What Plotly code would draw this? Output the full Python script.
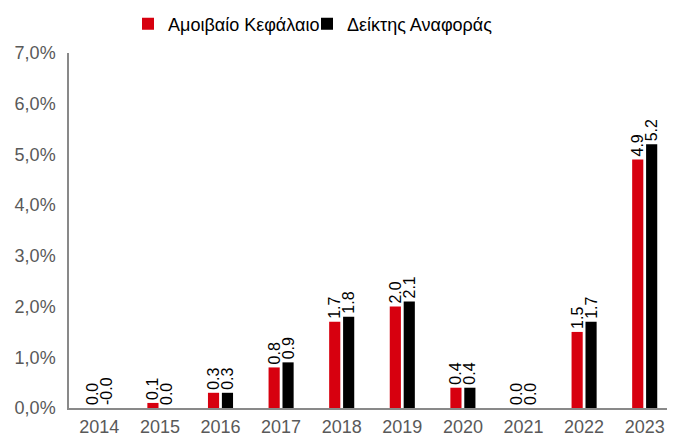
import plotly.graph_objects as go

years = ["2014", "2015", "2016", "2017", "2018", "2019", "2020", "2021", "2022", "2023"]
fund = [0.0, 0.1, 0.3, 0.8, 1.7, 2.0, 0.4, 0.0, 1.5, 4.9]
bench = [-0.0, 0.0, 0.3, 0.9, 1.8, 2.1, 0.4, 0.0, 1.7, 5.2]
fund_name = "Αμοιβαίο Κεφάλαιο"
bench_name = "Δείκτης Αναφοράς"
y_ticks = [0, 1, 2, 3, 4, 5, 6, 7]
y_tick_text = ["0,0%", "1,0%", "2,0%", "3,0%", "4,0%", "5,0%", "6,0%", "7,0%"]

FONT = "Liberation Sans, Arial, sans-serif"
OFF = 8  # default body margin of the html page
W, H = 675 - OFF, 437 - OFF
L, R, T, B = 69 - OFF, 0, 53 - OFF, 29
PW, PH = W - L - R, H - T - B

fig = go.Figure()
fig.add_trace(go.Bar(
    x=years, y=fund, name=fund_name, legend="legend",
    marker=dict(color="#D7000F", line=dict(width=0)),
    text=[f"{v:.1f}" for v in fund], textposition="outside", textangle=-90,
    textfont=dict(size=16, color="#000000", family=FONT), cliponaxis=False,
))
fig.add_trace(go.Bar(
    x=years, y=[abs(v) for v in bench], name=bench_name, legend="legend2",
    marker=dict(color="#000000", line=dict(width=0)),
    text=[f"{v:.1f}" for v in bench], textposition="outside", textangle=-90,
    textfont=dict(size=16, color="#000000", family=FONT), cliponaxis=False,
))

legend_common = dict(orientation="h", xanchor="left", yanchor="middle",
                     y=1 + (T - 16) / PH, font=dict(size=18, color="#000000"),
                     itemwidth=30, itemclick=False, bgcolor="rgba(0,0,0,0)")

fig.update_layout(
    width=W, height=H,
    margin=dict(l=L, r=R, t=T, b=B, autoexpand=False),
    paper_bgcolor="white", plot_bgcolor="white",
    font=dict(family=FONT, color="#595959", size=18),
    barmode="group", bargap=0.54, bargroupgap=0.2,
    uniformtext=dict(minsize=8, mode="show"),
    legend=dict(x=(120 - L) / PW, **legend_common),
    legend2=dict(x=(299 - L) / PW, **legend_common),
    xaxis=dict(showline=True, linecolor="#898989", linewidth=1.5, showgrid=False,
               ticks="", ticklabelstandoff=2, tickfont=dict(size=18, color="#595959")),
    yaxis=dict(range=[0, 7], showline=True, linecolor="#898989", linewidth=1.5,
               showgrid=False, zeroline=False, ticks="",
               tickvals=y_ticks, ticktext=y_tick_text, ticklabelstandoff=8,
               tickfont=dict(size=18, color="#595959")),
    showlegend=True,
)

fig.write_html("out.html")
